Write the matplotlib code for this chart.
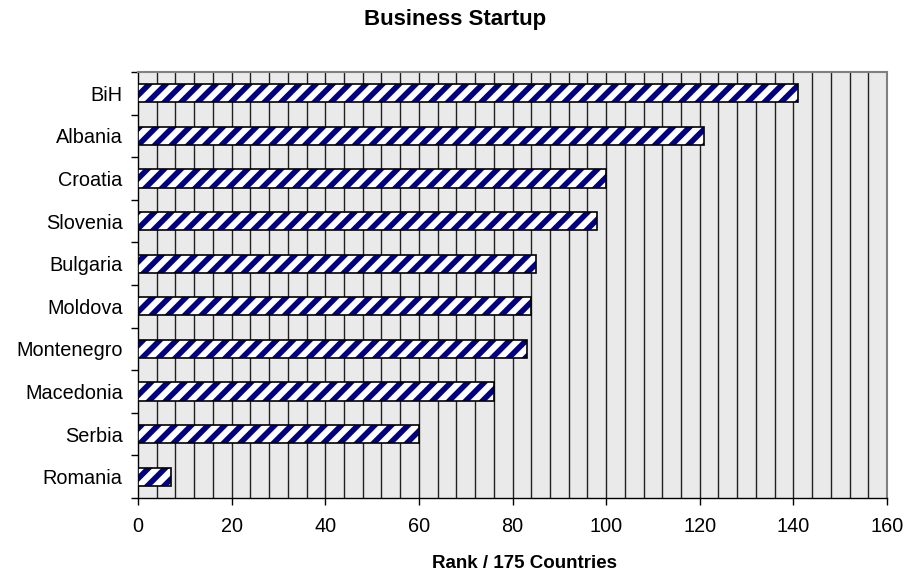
import matplotlib
matplotlib.use("Agg")
import matplotlib.pyplot as plt
import numpy as np

plt.rcParams["font.family"] = ["Liberation Sans", "DejaVu Sans"]
plt.rcParams["hatch.linewidth"] = 4

countries = ["BiH", "Albania", "Croatia", "Slovenia", "Bulgaria",
             "Moldova", "Montenegro", "Macedonia", "Serbia", "Romania"]
ranks = [141, 121, 100, 98, 85, 84, 83, 76, 60, 7]

W, H = 905, 577
fig = plt.figure(figsize=(W / 100, H / 100), dpi=100)
# plot area: x 138..887, y 72..498 px
ax = fig.add_axes([138 / W, 1 - 498 / H, 749 / W, 426 / H])
ax.set_facecolor("#EAEAEA")

y = np.arange(len(countries))[::-1]
# hatched fill (navy stripes), then black outline on top
ax.barh(y, ranks, height=0.43, color="white", edgecolor="#000080",
        hatch="//", linewidth=0, zorder=3)
ax.barh(y, ranks, height=0.43, fill=False, edgecolor="black",
        linewidth=1.2, zorder=4)

ax.set_xlim(0, 160)
ax.set_ylim(-0.5, len(countries) - 0.5)
for gx in np.arange(4, 160, 4):
    ax.axvline(gx, color="#202020", linewidth=1.0, zorder=1)

ax.set_xticks(np.arange(0, 161, 20))
ax.set_yticks(y)
ax.set_yticklabels(countries)
ax.set_yticks(np.arange(-0.5, len(countries), 1), minor=True)
ax.tick_params(axis="y", which="major", length=0, labelsize=14.3, pad=11)
ax.tick_params(axis="y", which="minor", length=5, width=1.0, direction="out")
ax.tick_params(axis="x", length=5, width=1.0, labelsize=14.3, pad=9)

for side in ["top", "right"]:
    ax.spines[side].set_color("#808080")
    ax.spines[side].set_linewidth(1.5)
for side in ["left", "bottom"]:
    ax.spines[side].set_color("black")
    ax.spines[side].set_linewidth(1.0)

fig.text(525 / W, 1 - 563 / H, "Rank / 175 Countries", fontsize=13.5,
         fontweight="bold", ha="center", va="center")
fig.text(455 / W, 1 - 20 / H, "Business Startup", fontsize=16,
         fontweight="bold", ha="center", va="center")

fig.savefig("out.png", dpi=100)
